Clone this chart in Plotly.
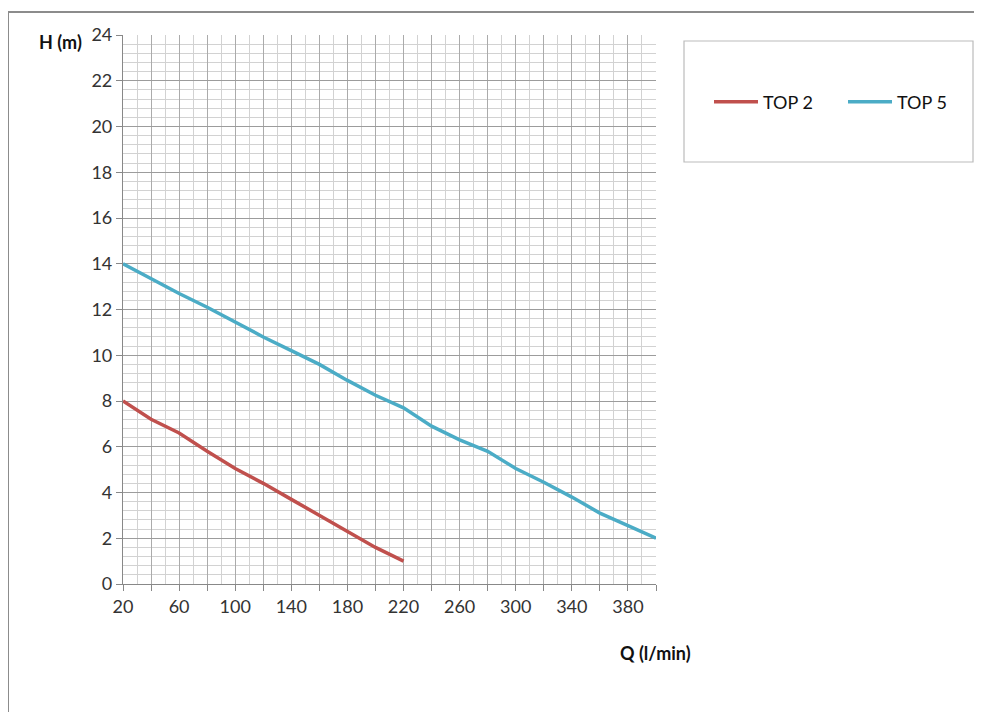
import plotly.graph_objects as go

q_top2 = [20, 40, 60, 80, 100, 120, 140, 160, 180, 200, 220]
h_top2 = [8.0, 7.2, 6.6, 5.8, 5.05, 4.4, 3.7, 3.0, 2.3, 1.6, 1.0]

q_top5 = [20, 40, 60, 80, 100, 120, 140, 160, 180, 200, 220, 240, 260, 280, 300, 320, 340, 360, 380, 400]
h_top5 = [14.0, 13.35, 12.7, 12.1, 11.45, 10.8, 10.2, 9.6, 8.9, 8.25, 7.7, 6.9, 6.3, 5.8, 5.05, 4.45, 3.8, 3.1, 2.55, 2.0]

x_ticks = list(range(20, 401, 20))
x_labels = [str(v) if (v - 20) % 40 == 0 else "" for v in x_ticks]

FONT = "Lato"
OFF = 8  # page body margin

# target plot area in page pixels: x 123..656, y 35..584
L, R, T, B = 123 - OFF, 656 - OFF, 35 - OFF, 584 - OFF
W, H = 982 - 2 * OFF, 720 - 2 * OFF
def px(x):
    return (x - OFF - L) / (R - L)
def py(y):
    return (B - (y - OFF)) / (B - T)

fig = go.Figure()
fig.add_trace(go.Scatter(x=q_top2, y=h_top2, mode="lines", name="TOP 2",
                         line=dict(color="#C0504D", width=3.5), legend="legend"))
fig.add_trace(go.Scatter(x=q_top5, y=h_top5, mode="lines", name="TOP 5",
                         line=dict(color="#4BACC6", width=3.5), legend="legend2"))

leg_common = dict(orientation="h", xanchor="left", yanchor="middle",
                  bgcolor="rgba(0,0,0,0)", borderwidth=0,
                  font=dict(family=FONT, size=18, color="#111111"),
                  itemwidth=44)

fig.update_layout(
    width=W, height=H,
    margin=dict(l=L, r=W - R, t=T, b=H - B, pad=0),
    paper_bgcolor="white", plot_bgcolor="white",
    font=dict(family=FONT, size=18, color="#333333"),
    showlegend=True,
    legend=dict(x=px(709), y=py(102), **leg_common),
    legend2=dict(x=px(843), y=py(102), **leg_common),
    shapes=[
        dict(type="rect", xref="paper", yref="paper",
             x0=px(684), x1=px(973), y0=py(162), y1=py(41),
             line=dict(color="#BBBBBB", width=1.2), fillcolor="rgba(0,0,0,0)", layer="below"),
        dict(type="line", xref="paper", yref="paper",
             x0=px(8), x1=px(990), y0=py(12), y1=py(12),
             line=dict(color="#8C8C8C", width=2)),
        dict(type="line", xref="paper", yref="paper",
             x0=px(8), x1=px(8), y0=py(12), y1=py(730),
             line=dict(color="#8C8C8C", width=2)),
    ],
    annotations=[
        dict(text="<b>H (m)</b>", xref="paper", yref="paper", x=px(84), y=py(42),
             xanchor="right", yanchor="middle", showarrow=False,
             font=dict(family=FONT, size=18, color="#111111")),
        dict(text="<b>Q (l/min)</b>", xref="paper", yref="paper", x=px(655), y=py(653),
             xanchor="center", yanchor="middle", showarrow=False,
             font=dict(family=FONT, size=18, color="#111111")),
    ],
)

fig.update_xaxes(
    range=[20, 400], tickmode="array", tickvals=x_ticks, ticktext=x_labels,
    ticks="outside", ticklen=6, tickcolor="#888888",
    showgrid=True, gridcolor="#ABABAB", gridwidth=1.3,
    minor=dict(dtick=10, tick0=20, showgrid=True, gridcolor="#D2D2D2", gridwidth=1.3),
    showline=True, linecolor="#888888", linewidth=1.2,
    zeroline=False, fixedrange=True,
    tickfont=dict(family=FONT, size=18, color="#333333"),
)
fig.update_yaxes(
    range=[0, 24], dtick=2, tick0=0,
    ticks="outside", ticklen=6, tickcolor="#888888",
    showgrid=True, gridcolor="#9C9C9C", gridwidth=1.3,
    minor=dict(dtick=0.4, tick0=0, showgrid=True, gridcolor="#D2D2D2", gridwidth=1.3),
    showline=True, linecolor="#888888", linewidth=1.2,
    zeroline=False, fixedrange=True,
    tickfont=dict(family=FONT, size=18, color="#333333"),
)

fig.write_html("out.html")
